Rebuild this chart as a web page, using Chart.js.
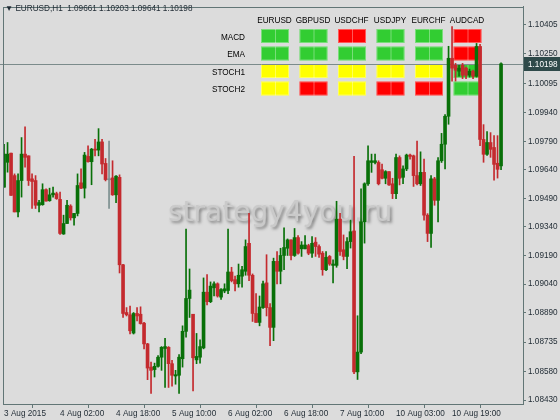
<!DOCTYPE html>
<html>
<head>
<meta charset="utf-8">
<script src="https://cdn.jsdelivr.net/npm/chart.js@4"></script>
<style>
  html, body { margin: 0; padding: 0; background: #dcdcdc; }
  canvas { display: block; }
</style>
</head>
<body>
<canvas id="myChart" width="560" height="420"></canvas>
<script>
const symbolName = 'EURUSD,H1';

// H1 candles, 3 Aug 2015 10:00 onwards
const open = [
  1.09549, 1.09680, 1.09728, 1.09610, 1.09419, 1.09584, 1.09723, 1.09714, 1.09593, 1.09584,
  1.09454, 1.09457, 1.09536, 1.09478, 1.09509, 1.09515, 1.09485, 1.09303, 1.09358, 1.09450,
  1.09388, 1.09411, 1.09572, 1.09544, 1.09711, 1.09683, 1.09749, 1.09744, 1.09787, 1.09674,
  1.09588, 1.09598, 1.09509, 1.09601, 1.09141, 1.08890, 1.08878, 1.08782, 1.08885, 1.08881,
  1.08834, 1.08725, 1.08603, 1.08590, 1.08607, 1.08655, 1.08701, 1.08707, 1.08621, 1.08556,
  1.08560, 1.08647, 1.08791, 1.08964, 1.08881, 1.08641, 1.08655, 1.08704, 1.08997, 1.08947,
  1.09020, 1.09041, 1.08971, 1.09003, 1.09006, 1.09103, 1.09063, 1.09041, 1.09081, 1.09107,
  1.09254, 1.09086, 1.08885, 1.08838, 1.08916, 1.09046, 1.08916, 1.08812, 1.09159, 1.09107,
  1.09190, 1.09228, 1.09272, 1.09190, 1.09284, 1.09225, 1.09225, 1.09242, 1.09202, 1.09260,
  1.09237, 1.09202, 1.09115, 1.09185, 1.09138, 1.09138, 1.09381, 1.09220, 1.09185, 1.09263,
  1.09319, 1.08578, 1.08682, 1.09367, 1.09567, 1.09679, 1.09679, 1.09679, 1.09641, 1.09596,
  1.09631, 1.09567, 1.09515, 1.09705, 1.09601, 1.09645, 1.09718, 1.09714, 1.09610, 1.09567,
  1.09627, 1.09402, 1.09306, 1.09593, 1.09480, 1.09688, 1.09775, 1.09922, 1.10227, 1.10190,
  1.10159, 1.10190, 1.10175, 1.10138, 1.10159, 1.10133, 1.10289, 1.09800, 1.09722, 1.09784,
  1.09758, 1.09675, 1.09661
];
const high = [
  1.09775, 1.09784, 1.09728, 1.09619, 1.09619, 1.09810, 1.09867, 1.09714, 1.09619, 1.09610,
  1.09480, 1.09567, 1.09541, 1.09544, 1.09549, 1.09523, 1.09523, 1.09402, 1.09480, 1.09457,
  1.09411, 1.09619, 1.09645, 1.09732, 1.09766, 1.09753, 1.09801, 1.09857, 1.09801, 1.09700,
  1.09792, 1.09688, 1.09610, 1.09614, 1.09144, 1.08916, 1.08924, 1.08890, 1.08916, 1.08920,
  1.08838, 1.08728, 1.08629, 1.08624, 1.08664, 1.08711, 1.08754, 1.08711, 1.08638, 1.08586,
  1.08669, 1.08820, 1.09329, 1.09119, 1.08881, 1.08780, 1.08746, 1.09072, 1.09089, 1.09051,
  1.09051, 1.09046, 1.09016, 1.09041, 1.09329, 1.09128, 1.09081, 1.09145, 1.09133, 1.09272,
  1.09411, 1.09093, 1.08989, 1.08977, 1.09055, 1.09194, 1.08937, 1.09176, 1.09211, 1.09228,
  1.09336, 1.09277, 1.09272, 1.09332, 1.09294, 1.09263, 1.09294, 1.09249, 1.09289, 1.09284,
  1.09246, 1.09211, 1.09211, 1.09190, 1.09167, 1.09475, 1.09411, 1.09298, 1.09284, 1.09376,
  1.09711, 1.08873, 1.09541, 1.09572, 1.09766, 1.09723, 1.09723, 1.09688, 1.09671, 1.09636,
  1.09631, 1.09596, 1.09723, 1.09714, 1.09662, 1.09723, 1.09723, 1.09718, 1.09792, 1.09735,
  1.09697, 1.09410, 1.09610, 1.09601, 1.09705, 1.09832, 1.09931, 1.10290, 1.10393, 1.10200,
  1.10190, 1.10200, 1.10180, 1.10170, 1.10165, 1.10305, 1.10300, 1.09878, 1.09841, 1.09836,
  1.09820, 1.09820, 1.10203
];
const low = [
  1.09549, 1.09628, 1.09506, 1.09419, 1.09393, 1.09497, 1.09654, 1.09558, 1.09437, 1.09437,
  1.09419, 1.09454, 1.09475, 1.09475, 1.09497, 1.09485, 1.09301, 1.09301, 1.09358, 1.09376,
  1.09350, 1.09398, 1.09541, 1.09492, 1.09680, 1.09562, 1.09714, 1.09714, 1.09619, 1.09582,
  1.09437, 1.09506, 1.09468, 1.09098, 1.08864, 1.08872, 1.08777, 1.08777, 1.08846, 1.08829,
  1.08699, 1.08537, 1.08464, 1.08551, 1.08603, 1.08586, 1.08496, 1.08496, 1.08503, 1.08513,
  1.08464, 1.08603, 1.08760, 1.08864, 1.08478, 1.08621, 1.08624, 1.08699, 1.08930, 1.08942,
  1.08977, 1.08971, 1.08959, 1.08994, 1.08989, 1.09051, 1.09003, 1.09023, 1.09023, 1.09086,
  1.09058, 1.08843, 1.08838, 1.08820, 1.08912, 1.08872, 1.08716, 1.08742, 1.09041, 1.09041,
  1.09115, 1.09190, 1.09167, 1.09185, 1.09197, 1.09185, 1.09225, 1.09194, 1.09180, 1.09185,
  1.09180, 1.09086, 1.09110, 1.09138, 1.09046, 1.09128, 1.09190, 1.09167, 1.09121, 1.09229,
  1.08569, 1.08538, 1.08673, 1.09255, 1.09558, 1.09627, 1.09671, 1.09561, 1.09593, 1.09567,
  1.09558, 1.09489, 1.09489, 1.09561, 1.09567, 1.09636, 1.09697, 1.09553, 1.09561, 1.09558,
  1.09376, 1.09263, 1.09232, 1.09454, 1.09367, 1.09679, 1.09645, 1.09880, 1.10107, 1.10107,
  1.10133, 1.10120, 1.10120, 1.10128, 1.10120, 1.10128, 1.09768, 1.09680, 1.09716, 1.09706,
  1.09586, 1.09597, 1.09641
];
const close = [
  1.09723, 1.09723, 1.09506, 1.09419, 1.09584, 1.09723, 1.09706, 1.09584, 1.09579, 1.09454,
  1.09468, 1.09536, 1.09476, 1.09509, 1.09518, 1.09489, 1.09306, 1.09358, 1.09454, 1.09388,
  1.09411, 1.09558, 1.09544, 1.09718, 1.09683, 1.09749, 1.09744, 1.09787, 1.09671, 1.09589,
  1.09588, 1.09509, 1.09607, 1.09141, 1.08885, 1.08878, 1.08794, 1.08885, 1.08872, 1.08832,
  1.08725, 1.08598, 1.08586, 1.08607, 1.08655, 1.08707, 1.08711, 1.08621, 1.08560, 1.08563,
  1.08655, 1.08791, 1.08964, 1.09008, 1.08652, 1.08659, 1.08711, 1.08997, 1.08947, 1.09029,
  1.09041, 1.08977, 1.09011, 1.09015, 1.09103, 1.09058, 1.09041, 1.09086, 1.09115, 1.09237,
  1.09086, 1.08885, 1.08838, 1.08919, 1.09041, 1.08916, 1.08812, 1.09159, 1.09107, 1.09190,
  1.09232, 1.09272, 1.09190, 1.09284, 1.09202, 1.09245, 1.09245, 1.09202, 1.09254, 1.09237,
  1.09197, 1.09115, 1.09180, 1.09145, 1.09145, 1.09381, 1.09211, 1.09185, 1.09263, 1.09315,
  1.08578, 1.08682, 1.09367, 1.09567, 1.09688, 1.09688, 1.09688, 1.09567, 1.09596, 1.09631,
  1.09561, 1.09515, 1.09705, 1.09596, 1.09645, 1.09718, 1.09711, 1.09610, 1.09567, 1.09627,
  1.09402, 1.09306, 1.09593, 1.09480, 1.09688, 1.09775, 1.09922, 1.10227, 1.10175, 1.10164,
  1.10175, 1.10138, 1.10138, 1.10159, 1.10133, 1.10289, 1.09800, 1.09722, 1.09784, 1.09748,
  1.09669, 1.09643, 1.10198
];

const xTickIndex = [0, 16, 32, 48, 64, 80, 96, 112, 128];
const xTickLabels = ['3 Aug 2015', '4 Aug 02:00', '4 Aug 18:00', '5 Aug 10:00', '6 Aug 02:00',
                     '6 Aug 18:00', '7 Aug 10:00', '10 Aug 03:00', '10 Aug 19:00'];
const yTicks = [1.08430, 1.08580, 1.08735, 1.08890, 1.09040, 1.09190, 1.09340,
                1.09490, 1.09640, 1.09790, 1.09940, 1.10095, 1.10250, 1.10405];

// signal table
const pairs = ['EURUSD', 'GBPUSD', 'USDCHF', 'USDJPY', 'EURCHF', 'AUDCAD'];
const rowNames = ['MACD', 'EMA', 'STOCH1', 'STOCH2'];
const macd   = ['up', 'up', 'down', 'up', 'up', 'down'];
const ema    = ['up', 'up', 'up', 'up', 'up', 'down'];
const stoch1 = ['flat', 'flat', 'flat', 'flat', 'flat', 'up'];
const stoch2 = ['flat', 'down', 'flat', 'down', 'down', 'up'];
const signals = [macd, ema, stoch1, stoch2];
const signalColor = { up: '#32cd32', down: '#ff0000', flat: '#ffff00' };

const bull = '#087008';
const bear = '#c42a2e';
const doji = '#7b8f8f';
const axisColor = '#627676';
const textColor = '#1f2a33';
const fontFamily = '"Liberation Sans", Arial, sans-serif';
const fontSize = 8.2;

const idx = open.map((v, i) => i);
const colorOf = i => close[i] > open[i] ? bull : (close[i] < open[i] ? bear : doji);

const overlay = {
    id: 'overlay',
    beforeDatasetsDraw(chart) {
        const c = chart.ctx;
        const area = chart.chartArea;
        c.save();
        // watermark
        c.font = '31px "DejaVu Sans", Verdana, sans-serif';
        c.textBaseline = 'alphabetic';
        c.textAlign = 'left';
        const wm = 'strategy4you.ru';
        const w = c.measureText(wm).width;
        const size = 31 * 224 / w;
        c.font = size.toFixed(1) + 'px "DejaVu Sans", Verdana, sans-serif';
        c.shadowColor = 'rgba(60,60,60,0.55)';
        c.shadowBlur = 3;
        c.shadowOffsetX = 2;
        c.shadowOffsetY = 2;
        c.fillStyle = '#cacaca';
        c.fillText(wm, 168, 221);
        c.shadowColor = 'transparent';

        // signal table
        c.font = fontSize + 'px ' + fontFamily;
        c.fillStyle = '#000';
        c.textBaseline = 'middle';
        c.textAlign = 'center';
        pairs.forEach((p, j) => c.fillText(p, 274.5 + j * 38.5, 20.5));
        c.textAlign = 'right';
        rowNames.forEach((r, k) => {
            c.fillStyle = '#000';
            c.fillText(r, 245, 37.5 + k * 17.5);
            signals[k].forEach((s, j) => {
                const x = 261 + j * 38.5;
                const y = 29 + k * 17.5;
                c.fillStyle = signalColor[s];
                c.fillRect(x, y, 28, 14);
                c.strokeStyle = 'rgba(255,255,255,0.35)';
                c.lineWidth = 1;
                c.strokeRect(x + 0.5, y + 0.5, 27, 13);
                c.beginPath();
                c.moveTo(x + 14.5, y);
                c.lineTo(x + 14.5, y + 14);
                c.stroke();
            });
        });

        // current price line
        const py = Math.round(chart.scales.y.getPixelForValue(close[close.length - 1])) + 0.5;
        c.strokeStyle = '#7b8b8b';
        c.lineWidth = 1;
        c.beginPath();
        c.moveTo(0, py);
        c.lineTo(area.right, py);
        c.stroke();
        c.restore();
    },
    afterDraw(chart) {
        const c = chart.ctx;
        const area = chart.chartArea;
        const last = close.length - 1;
        c.save();
        c.strokeStyle = axisColor;
        c.lineWidth = 1;
        c.strokeRect(Math.round(area.left) + 0.5, Math.round(area.top) + 0.5,
                     Math.round(area.right - area.left), Math.round(area.bottom - area.top));
        // price label
        const py = Math.round(chart.scales.y.getPixelForValue(close[last]));
        c.fillStyle = '#2f4a4a';
        c.fillRect(area.right + 1, py - 7, 560 - area.right - 1, 14);
        c.fillStyle = '#ffffff';
        c.font = fontSize + 'px ' + fontFamily;
        c.textBaseline = 'middle';
        c.textAlign = 'left';
        c.fillText(close[last].toFixed(5), area.right + 5, py + 0.5);
        // title
        c.fillStyle = textColor;
        c.fillText('\u25BC ' + symbolName + '  ' + open[last].toFixed(5) + ' ' + high[last].toFixed(5) +
                   ' ' + low[last].toFixed(5) + ' ' + close[last].toFixed(5), 5, 8.5);
        c.restore();
    }
};

const ctx = document.getElementById('myChart');

new Chart(ctx, {
    type: 'bar',
    data: {
        datasets: [{
            label: 'wick',
            data: idx.map(i => ({ x: i, y: [low[i], high[i]] })),
            backgroundColor: idx.map(colorOf),
            barThickness: 1,
            grouped: false,
            order: 2
        }, {
            label: 'body',
            data: idx.map(i => ({ x: i, y: [open[i], close[i]] })),
            backgroundColor: idx.map(colorOf),
            barThickness: 3,
            minBarLength: 1,
            grouped: false,
            order: 1
        }]
    },
    options: {
        responsive: false,
        animation: false,
        events: [],
        layout: { padding: { left: 3, top: 3, right: 0, bottom: 0 } },
        plugins: { legend: { display: false }, tooltip: { enabled: false } },
        scales: {
            x: {
                type: 'linear',
                min: -0.3,
                max: -0.3 + 520 / 3.5,
                offset: false,
                grid: { drawOnChartArea: false, tickLength: 4, color: axisColor },
                border: { color: axisColor },
                ticks: {
                    align: 'start',
                    autoSkip: false,
                    maxRotation: 0,
                    padding: 1,
                    color: textColor,
                    font: { family: fontFamily, size: fontSize },
                    callback: v => xTickLabels[xTickIndex.indexOf(v)]
                },
                afterBuildTicks: s => { s.ticks = xTickIndex.map(v => ({ value: v })); },
                afterFit: s => { s.height = 16; }
            },
            y: {
                position: 'right',
                min: 1.08409,
                max: 1.10497,
                grid: { drawOnChartArea: false, tickLength: 3, color: axisColor },
                border: { color: axisColor },
                ticks: {
                    padding: 2,
                    color: textColor,
                    font: { family: fontFamily, size: fontSize },
                    callback: v => v.toFixed(5)
                },
                afterBuildTicks: s => { s.ticks = yTicks.map(v => ({ value: v })); },
                afterFit: s => { s.width = 37; }
            }
        }
    },
    plugins: [overlay]
});
</script>
</body>
</html>
